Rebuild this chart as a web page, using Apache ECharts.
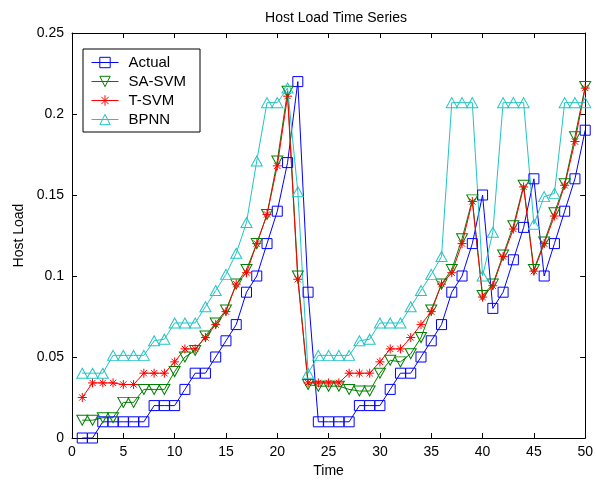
<!DOCTYPE html>
<html>
<head>
<meta charset="utf-8">
<script src="https://cdn.jsdelivr.net/npm/echarts@6/dist/echarts.min.js"></script>
<style>
html,body{margin:0;padding:0;background:#fff;}
#chart{width:596px;height:486px;}
</style>
</head>
<body>
<div id="chart"></div>
<script>
const time = [1,2,3,4,5,6,7,8,9,10,11,12,13,14,15,16,17,18,19,20,21,22,23,24,25,26,27,28,29,30,31,32,33,34,35,36,37,38,39,40,41,42,43,44,45,46,47,48,49,50];
const actual = [0,0,0.01,0.01,0.01,0.01,0.01,0.02,0.02,0.02,0.03,0.04,0.04,0.05,0.06,0.07,0.09,0.10,0.12,0.14,0.17,0.22,0.09,0.01,0.01,0.01,0.01,0.02,0.02,0.02,0.03,0.04,0.04,0.05,0.06,0.07,0.09,0.10,0.12,0.15,0.08,0.09,0.11,0.13,0.16,0.10,0.12,0.14,0.16,0.19];
const saSvm = [0.011,0.011,0.0125,0.0125,0.022,0.022,0.030,0.030,0.030,0.041,0.050,0.054,0.063,0.071,0.079,0.095,0.104,0.120,0.138,0.171,0.214,0.100,0.033,0.032,0.032,0.032,0.030,0.029,0.029,0.040,0.048,0.047,0.052,0.062,0.079,0.095,0.104,0.123,0.147,0.088,0.095,0.113,0.131,0.156,0.104,0.121,0.139,0.157,0.186,0.217];
const tSvm = [0.025,0.034,0.034,0.034,0.033,0.033,0.040,0.040,0.040,0.047,0.055,0.055,0.062,0.070,0.078,0.095,0.102,0.120,0.138,0.168,0.211,0.098,0.034,0.034,0.034,0.034,0.040,0.040,0.040,0.047,0.055,0.055,0.062,0.070,0.078,0.095,0.102,0.120,0.146,0.087,0.094,0.112,0.129,0.155,0.103,0.120,0.137,0.156,0.183,0.216];
const bpnn = [0.040,0.040,0.040,0.051,0.051,0.051,0.051,0.060,0.061,0.071,0.071,0.071,0.081,0.091,0.101,0.114,0.133,0.171,0.207,0.207,0.216,0.152,0.040,0.051,0.051,0.051,0.051,0.060,0.061,0.071,0.071,0.071,0.081,0.091,0.101,0.112,0.207,0.207,0.207,0.100,0.127,0.207,0.207,0.207,0.132,0.149,0.151,0.207,0.207,0.207];
const seriesNames = ['Actual','SA-SVM','T-SVM','BPNN'];
const xTicks = [0,5,10,15,20,25,30,35,40,45,50];
const yTicks = [0,0.05,0.1,0.15,0.2,0.25];

const FONT = '"Liberation Sans", Arial, sans-serif';
const pairs = arr => time.map((t,i)=>[t, arr[i]]);

const SQUARE = 'path://M0,0L10,0L10,10L0,10Z';
const TRI_DOWN = 'path://M0,0L10,0L5,9Z';
const TRI_UP = 'path://M5,0L10,9L0,9Z';
const STAR = 'path://M5,0L5,10M0,5L10,5M1.5,1.5L8.5,8.5M1.5,8.5L8.5,1.5';

function mk(name, data, color, symbol, size) {
  return {
    name: name, type: 'line', data: pairs(data),
    symbol: symbol, symbolSize: size,
    showAllSymbol: true,
    lineStyle: {color: color, width: 1},
    itemStyle: {color: 'rgba(0,0,0,0)', borderColor: color, borderWidth: 1},
    emphasis: {disabled: true},
    clip: false
  };
}

const chart = echarts.init(document.getElementById('chart'), null, {renderer: 'canvas'});
const axisCommon = {
  axisLine: {show: true, onZero: false, lineStyle: {color: '#000', width: 1}},
  axisTick: {show: true, inside: true, length: 5, lineStyle: {color: '#000'}},
  splitLine: {show: false}
};
chart.setOption({
  animation: false,
  backgroundColor: '#fff',
  title: {
    text: 'Host Load Time Series', left: 331, top: 6, textAlign: 'center',
    textStyle: {fontFamily: FONT, fontSize: 14, fontWeight: 'normal', color: '#000'}
  },
  grid: {left: 72, right: 8, top: 33, bottom: 48, containLabel: false},
  legend: {
    data: seriesNames, orient: 'vertical', left: 83, top: 49,
    borderColor: '#000', borderWidth: 1, backgroundColor: '#fff',
    padding: [5, 14, 4, 8], itemGap: 2, itemWidth: 27, itemHeight: 13,
    lineStyle: {width: 1},
    itemStyle: {borderWidth: 1},
    textStyle: {fontFamily: FONT, fontSize: 15, color: '#000', padding: [0,0,0,5], lineHeight: 17}
  },
  xAxis: [
    Object.assign({
      type: 'value', min: 0, max: 50, interval: 5, position: 'bottom',
      name: 'Time', nameLocation: 'middle', nameGap: 26,
      nameTextStyle: {fontFamily: FONT, fontSize: 14, color: '#000'},
      axisLabel: {fontFamily: FONT, fontSize: 14, color: '#000', margin: 7,
        formatter: v => xTicks.indexOf(v) >= 0 ? String(v) : ''}
    }, axisCommon),
    Object.assign({
      type: 'value', min: 0, max: 50, interval: 5, position: 'top',
      axisLabel: {show: false}
    }, axisCommon)
  ],
  yAxis: [
    Object.assign({
      type: 'value', min: 0, max: 0.25, interval: 0.05, position: 'left',
      name: 'Host Load', nameLocation: 'middle', nameGap: 44,
      nameTextStyle: {fontFamily: FONT, fontSize: 14, color: '#000'},
      axisLabel: {fontFamily: FONT, fontSize: 14, color: '#000', margin: 8,
        formatter: v => { const t = yTicks.find(y => Math.abs(y - v) < 1e-9); return t === undefined ? '' : String(t); }}
    }, axisCommon),
    Object.assign({
      type: 'value', min: 0, max: 0.25, interval: 0.05, position: 'right',
      axisLabel: {show: false}
    }, axisCommon)
  ],
  series: [
    mk('Actual', actual, '#0000ff', SQUARE, [10,10]),
    mk('SA-SVM', saSvm, '#008000', TRI_DOWN, [11,10]),
    mk('T-SVM', tSvm, '#ff0000', STAR, [9,9]),
    mk('BPNN', bpnn, '#22c4c4', TRI_UP, [11,10])
  ]
});
</script>
</body>
</html>
